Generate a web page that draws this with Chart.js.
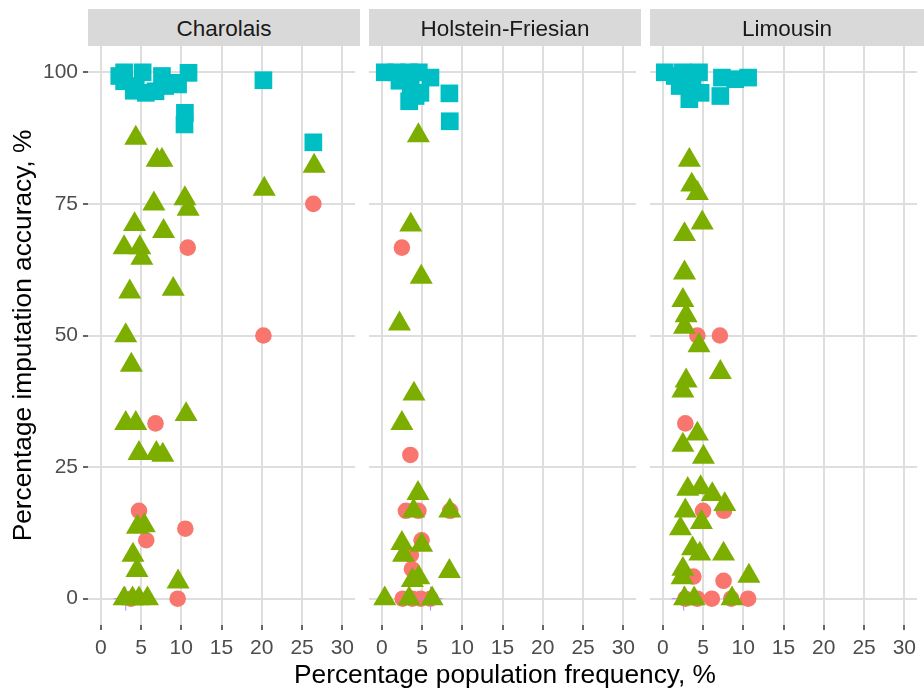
<!DOCTYPE html>
<html><head><meta charset="utf-8">
<script src="https://cdn.jsdelivr.net/npm/chart.js@4.4.1/dist/chart.umd.min.js"></script>
<style>
html,body{margin:0;padding:0;background:#fff;}
#wrap{position:relative;width:924px;height:688px;overflow:hidden;font-family:"Liberation Sans",Arial,sans-serif;}
canvas{position:absolute;top:0;}
.strip{position:absolute;top:9px;height:37px;width:272px;background:#d9d9d9;color:#1a1a1a;font-size:22.5px;line-height:39px;text-align:center;overflow:hidden;}
#xtitle{position:absolute;left:88px;width:834px;top:659px;line-height:30px;font-size:26.3px;color:#000;text-align:center;}
</style></head>
<body><div id="wrap">
<canvas id="c0" width="360" height="688" style="left:0px"></canvas>
<canvas id="c1" width="272" height="688" style="left:369px"></canvas>
<canvas id="c2" width="272" height="688" style="left:650px"></canvas>
<div class="strip" style="left:88px">Charolais</div>
<div class="strip" style="left:369px">Holstein-Friesian</div>
<div class="strip" style="left:650px;width:274px">Limousin</div>
<div id="xtitle">Percentage population frequency, %</div>
</div>
<script>
// ---- data ----
const breeds = ['Charolais', 'Holstein-Friesian', 'Limousin'];
const seriesNames = ['Group A (circle)', 'Group B (triangle)', 'Group C (square)', 'Group D (plus)'];
const xTicks = [0, 5, 10, 15, 20, 25, 30];
const yTicks = [0, 25, 50, 75, 100];
const xTitle = 'Percentage population frequency, %';
const yTitle = 'Percentage imputation accuracy, %';

// [frequency %, accuracy %]
const charolaisCircles = [[26.4,75],[10.8,66.7],[20.2,50],[6.8,33.3],[4.75,16.7],[10.5,13.3],[5.65,11.1],[9.55,0],[3.75,0]];
const charolaisTriangles = [[4.35,87.5],[7.0,83.3],[7.6,83.3],[26.5,82.2],[20.3,77.8],[6.6,75],[10.45,76],[10.85,74],[4.2,71.1],[7.8,69.8],[2.9,66.7],[4.85,66.7],[5.1,64.7],[3.6,58.3],[9.0,58.8],[3.1,50],[3.8,44.4],[3.1,33.3],[4.35,33.3],[10.6,35],[4.75,27.6],[6.9,27.6],[7.7,27.3],[4.55,13.6],[5.4,13.9],[4.0,8.3],[4.5,5.4],[9.6,3.2],[2.9,0],[3.95,0],[4.75,0],[5.8,0]];
const charolaisSquares = [[2.9,100],[5.2,100],[2.3,99.3],[2.9,98.3],[4.35,97.4],[4.1,96.5],[5.6,96.1],[6.8,96.4],[7.6,99.3],[8.0,97.4],[8.8,98],[9.6,97.7],[10.9,99.9],[10.45,92.3],[10.4,90.1],[20.2,98.5],[26.4,86.7]];
const charolaisPlus = [[3.1,0]];

const holsteinCircles = [[2.5,66.7],[3.55,27.3],[3.0,16.7],[4.55,16.7],[8.5,16.7],[4.95,11.1],[3.6,8.3],[3.75,5.6],[2.6,0],[3.8,0],[4.85,0],[6.05,0]];
const holsteinTriangles = [[4.55,88],[3.6,71],[4.9,61.1],[2.2,52.2],[4.0,38.9],[2.5,33.3],[4.5,20],[3.95,16.7],[8.45,16.7],[2.5,10.5],[2.7,8.3],[4.95,10.2],[8.4,5.2],[3.8,3.5],[4.6,4],[0.37,0],[3.4,0],[6.25,0]];
const holsteinSquares = [[0.37,100],[1.8,100],[3.4,100],[4.6,100],[6.05,99],[2.2,98.4],[3.6,97.4],[3.4,94.5],[4.8,96.1],[4.2,95.5],[8.4,96.0],[8.45,90.7]];
const holsteinPlus = [[6.05,0]];

const limousinCircles = [[4.3,50],[7.1,50],[2.8,33.3],[5.0,16.7],[7.6,16.7],[3.8,4.2],[7.55,3.4],[2.8,0],[4.3,0],[6.1,0],[8.5,0],[10.6,0]];
const limousinTriangles = [[3.3,83.3],[3.6,78.6],[4.3,77],[4.9,71.4],[2.7,69.2],[2.7,61.9],[2.5,56.7],[2.9,53.8],[2.7,51.6],[4.5,48.1],[7.15,43],[2.9,41.4],[2.5,39.5],[4.3,31.3],[2.5,29.2],[5.05,26.9],[3.1,20.8],[4.7,21.1],[6.15,19.8],[7.7,17.9],[2.8,16.7],[4.8,14.5],[2.2,13.3],[3.7,9.5],[4.6,8.5],[7.55,8.5],[2.5,5.6],[2.4,4],[10.7,4.3],[2.7,0],[3.9,0],[8.6,0]];
const limousinSquares = [[0.25,100],[1.5,99.3],[2.5,100],[4.5,100],[2.1,97.4],[3.7,98],[3.3,94.9],[4.7,96.1],[7.35,99],[7.15,95.5],[9.0,98.7],[10.6,99]];
const limousinPlus = [[2.6,0]];

const panelCircles = [charolaisCircles, holsteinCircles, limousinCircles];
const panelTriangles = [charolaisTriangles, holsteinTriangles, limousinTriangles];
const panelSquares = [charolaisSquares, holsteinSquares, limousinSquares];
const panelPlus = [charolaisPlus, holsteinPlus, limousinPlus];

// ---- drawing ----
const FAM = "'Liberation Sans', Arial, sans-serif";
const pts = a => a.map(p => ({x: p[0], y: p[1]}));

function makePanel(idx) {
  const first = idx === 0;
  return new Chart(document.getElementById('c' + idx), {
    type: 'scatter',
    data: {datasets: [
      {label: seriesNames[1], data: pts(panelTriangles[idx]), pointStyle: 'triangle', pointRadius: 13.3, backgroundColor: '#7CAE00', borderWidth: 0},
      {label: seriesNames[3], data: pts(panelPlus[idx]), pointStyle: 'cross', pointRadius: 12, borderColor: '#C77CFF', backgroundColor: '#C77CFF', borderWidth: 1},
      {label: seriesNames[0], data: pts(panelCircles[idx]), pointStyle: 'circle', pointRadius: 8.3, backgroundColor: '#F8766D', borderWidth: 0},
      {label: seriesNames[2], data: pts(panelSquares[idx]), pointStyle: 'rect', pointRadius: 12.5, backgroundColor: '#00BFC4', borderWidth: 0}
    ]},
    options: {
      responsive: false, animation: false, devicePixelRatio: 1,
      layout: {padding: {top: 46, left: 0, right: 0, bottom: 0}, autoPadding: false},
      plugins: {legend: {display: false}, tooltip: {enabled: false}, title: {display: false}},
      scales: {
        x: {
          type: 'linear', min: -1.585, max: 31.585,
          afterBuildTicks: s => { s.ticks = xTicks.map(v => ({value: v})); },
          afterFit: s => { s.height = 63; },
          grid: {color: '#dedede', lineWidth: 2, tickColor: '#333333', tickLength: 5, tickWidth: 1.5},
          border: {display: false},
          ticks: {color: '#4d4d4d', font: {size: 21, family: FAM}, padding: 6, maxRotation: 0, autoSkip: false}
        },
        y: {
          type: 'linear', min: -5, max: 105,
          afterBuildTicks: s => { s.ticks = yTicks.map(v => ({value: v})); },
          afterFit: s => { s.width = first ? 88 : 0; },
          grid: {color: '#dedede', lineWidth: 2, tickColor: '#333333', tickLength: 5, tickWidth: 1.5, drawTicks: first},
          border: {display: false},
          ticks: {display: first, color: '#4d4d4d', font: {size: 21, family: FAM}, padding: 5},
          title: {display: first, text: yTitle, color: '#000', font: {size: 26.3, family: FAM}, padding: {top: 8.4, bottom: 0}}
        }
      }
    }
  });
}
breeds.forEach((b, i) => makePanel(i));
</script>
</body></html>
